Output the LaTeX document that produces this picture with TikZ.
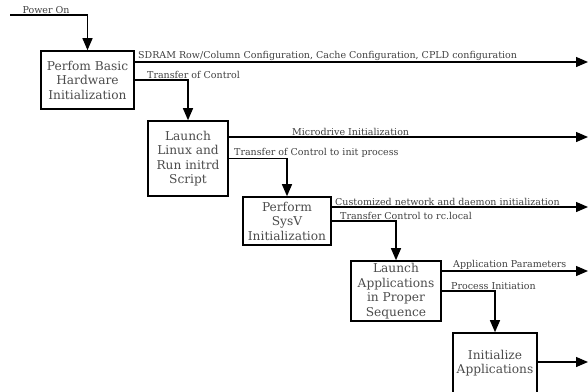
\documentclass[tikz,border=0pt]{standalone}
\usepackage{fontspec}
\setmainfont{DejaVu Serif}
\usetikzlibrary{arrows.meta}
\begin{document}
\begin{tikzpicture}[x=1pt,y=-1pt,
    stage/.style={draw,line width=1.6pt,align=center,font=\fontsize{12.2}{14.5}\selectfont,text=black!70,inner sep=0pt},
    flow/.style={line width=1.3pt,-{Triangle[length=12pt,width=10pt]}},
    lbl/.style={font=\fontsize{9.5}{10}\selectfont,text=black!75,inner sep=1pt,anchor=south west}]
    \useasboundingbox (0,0) rectangle (588,391);
    \clip (0,0) rectangle (588,391);

    \node[stage,minimum width=93pt,minimum height=58pt] (hw) at (87.5,80) {Perfom Basic\\Hardware\\Initialization};
    \node[stage,minimum width=80pt,minimum height=75pt] (linux) at (188,158.5) {Launch\\Linux and\\Run initrd\\Script};
    \node[stage,minimum width=88pt,minimum height=48pt] (sysv) at (287,221) {Perform\\SysV\\Initialization};
    \node[stage,minimum width=90pt,minimum height=60pt] (apps) at (396,291) {Launch\\Applications\\in Proper\\Sequence};
    \node[stage,minimum width=84pt,minimum height=60pt] (init) at (495,363) {Initialize\\Applications};

    \coordinate (pwr) at (10,15);
    \draw[flow] (pwr) -| (hw.north);
    \node[lbl,anchor=south] (pwrlbl) at (46,15) {Power On};

    \coordinate (out1) at (588,62);
    \coordinate (out2) at (588,137);
    \coordinate (out3) at (588,207);
    \coordinate (out4) at (588,271);
    \coordinate (out5) at (588,362);
    \draw[flow] (hw.east |- out1) -- (out1);
    \draw[flow] (linux.east |- out2) -- (out2);
    \draw[flow] (sysv.east |- out3) -- (out3);
    \draw[flow] (apps.east |- out4) -- (out4);
    \draw[flow] (init.east |- out5) -- (out5);

    \draw[flow] (hw.east) -| (linux.north);
    \draw[flow] (linux.east) -| (sysv.north);
    \draw[flow] (sysv.east) -| (apps.north);
    \draw[flow] (apps.east) -| (init.north);

    \node[lbl] (sdram) at (137,62) {SDRAM Row/Column Configuration, Cache Configuration, CPLD configuration};
    \node[lbl] (toctl) at (146,80) {Transfer of Control};
    \node[lbl] (mdrive) at (291,137) {Microdrive Initialization};
    \node[lbl] (toinit) at (233,158.5) {Transfer of Control to init process};
    \node[lbl] (daemon) at (334,207) {Customized network and daemon initialization};
    \node[lbl] (torc) at (339,221) {Transfer Control to rc.local};
    \node[lbl] (params) at (452,271) {Application Parameters};
    \node[lbl] (procinit) at (450,291) {Process Initiation};
\end{tikzpicture}
\end{document}
